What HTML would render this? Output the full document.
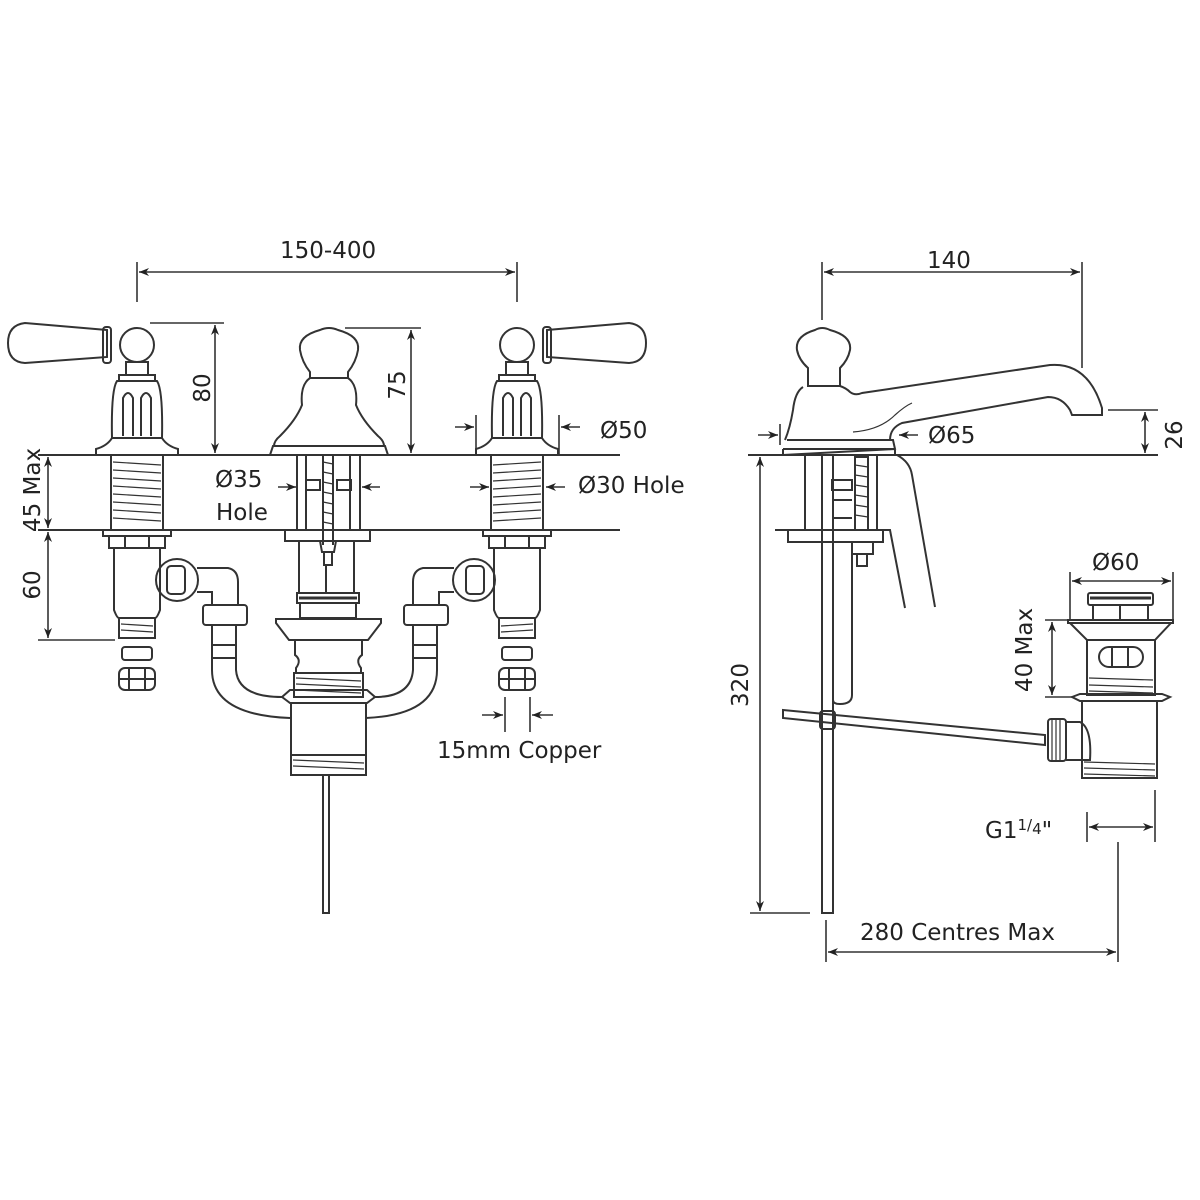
<!DOCTYPE html>
<html><head><meta charset="utf-8"><style>
html,body{margin:0;padding:0;background:#fff;}
svg{display:block;}
text{font-family:"DejaVu Sans","Liberation Sans",sans-serif;font-size:23px;fill:#222;}
</style></head><body>
<svg width="1200" height="1200" viewBox="0 0 1200 1200" xmlns="http://www.w3.org/2000/svg">
<defs>
<marker id="a" viewBox="0 0 10 10" refX="10" refY="5" markerWidth="10" markerHeight="10" orient="auto-start-reverse" markerUnits="userSpaceOnUse"><path d="M0,1 L10,5 L0,9 L3,5 Z" fill="#222"/></marker>
<g id="tap" fill="none" stroke="#333" stroke-width="2">
  <path d="M-30,330 L-112,323 Q-129,325 -129,343 Q-129,362 -112,363 L-30,357 Z"/>
  <rect x="-34" y="327" width="8" height="36" rx="3"/>
  <circle cx="0" cy="345" r="17"/>
  <rect x="-11" y="362" width="22" height="13"/>
  <rect x="-18" y="375" width="36" height="6"/>
  <path d="M-20,381 Q-26,390 -25,438 L25,438 Q26,390 20,381 Z"/>
  <path d="M-14,436 L-14,398 Q-9,388 -4,398 L-4,436 M4,436 L4,398 Q9,388 14,398 L14,436"/>
  <path d="M-25,438 Q-30,446 -41,449 L-41,455 L41,455 L41,449 Q30,446 25,438"/>
  <rect x="-26" y="455" width="52" height="75"/>
  <path d="M-24,462 L24,465 M-24,470 L24,473 M-24,478 L24,481 M-24,486 L24,489 M-24,494 L24,497 M-24,502 L24,505 M-24,510 L24,513 M-24,518 L24,521" stroke-width="1.2"/>
  <rect x="-34" y="530" width="68" height="6"/>
  <rect x="-28" y="536" width="56" height="12"/>
  <path d="M-12,536 L-12,548 M12,536 L12,548"/>
  <path d="M-23,548 L-23,610 Q-20,618 -18,618 L18,618 Q20,618 23,610 L23,548"/>
  <rect x="-18" y="618" width="36" height="20"/>
  <path d="M-16,624 L16,626 M-16,630 L16,632" stroke-width="1.2"/>
  <rect x="-15" y="647" width="30" height="13" rx="3"/>
  <rect x="-18" y="668" width="36" height="22" rx="6"/>
  <path d="M-8,668 L-8,690 M8,668 L8,690 M-18,679 L18,679"/>
</g>
</defs>

<g stroke="#333" stroke-width="2" fill="none">
<line x1="38" y1="455" x2="620" y2="455"/>
<line x1="38" y1="530" x2="620" y2="530"/>
<line x1="748" y1="455" x2="1158" y2="455"/>
</g>

<use href="#tap" transform="translate(137,0)"/>
<use href="#tap" transform="translate(517,0) scale(-1,1)"/>

<g fill="none" stroke="#333" stroke-width="2">
  <path d="M300,350 Q298,336 320,330 Q329,326 338,330 Q360,336 358,350 Q356,362 348,372 L348,378 L310,378 L310,372 Q302,362 300,350 Z"/>
  <path d="M310,378 Q300,385 302,405 Q296,420 280,436 Q274,441 274,446 L384,446 Q384,441 378,436 Q362,420 356,405 Q358,385 348,378"/>
  <path d="M273,446 L385,446 L388,455 L270,455 Z"/>
  <rect x="297" y="455" width="63" height="75"/>
  <path d="M306,455 L306,530 M350,455 L350,530 M323,455 L323,545 M333,455 L333,545"/>
  <path d="M323,462 L333,464 M323,472 L333,474 M323,482 L333,484 M323,492 L333,494 M323,502 L333,504 M323,512 L333,514 M323,522 L333,524" stroke-width="1.2"/>
  <rect x="306" y="480" width="14" height="10"/><rect x="337" y="480" width="14" height="10"/>
  <rect x="285" y="530" width="85" height="11"/>
  <path d="M320,541 L322,552 L334,552 L336,541 M324,552 L324,565 L332,565 L332,552"/>
  <path d="M299,541 L299,593 M354,541 L354,593 M326,565 L326,593"/>
  <rect x="297" y="593" width="62" height="10"/>
  <line x1="299" y1="598" x2="357" y2="598" stroke-width="3"/>
  <rect x="300" y="603" width="56" height="15"/>
  <path d="M276,619 L381,619 L381,623 L368,640 L289,640 L276,623 Z"/>
  <path d="M295,640 L295,655 Q302,660 296,668 L296,673 M362,640 L362,655 Q355,660 361,668 L361,673"/>
  <rect x="294" y="673" width="69" height="24"/>
  <path d="M296,678 L361,681 M296,684 L361,687 M296,690 L361,693" stroke-width="1.2"/>
  <path d="M282,697 L290,690 L367,690 L375,697 L367,703 L290,703 Z"/>
  <rect x="291" y="703" width="75" height="72"/>
  <path d="M291,755 L366,755" />
  <path d="M293,760 L364,763 M293,766 L364,769" stroke-width="1.2"/>
  <path d="M323,775 L323,913 L329,913 L329,775"/>
  <circle cx="177" cy="580" r="21"/>
  <rect x="167" y="566" width="18" height="28" rx="4"/>
  <path d="M197,568 L228,568 Q238,570 238,582 L238,605 M197,592 L212,592 L212,605"/>
  <rect x="203" y="605" width="44" height="20" rx="3"/>
  <path d="M212,625 L212,658 L236,658 L236,625 M212,645 L236,645"/>
  <path d="M212,658 L212,670 Q212,715 290,718 M236,658 L236,670 Q238,697 282,697"/>
  <circle cx="474" cy="580" r="21"/>
  <rect x="466" y="566" width="18" height="28" rx="4"/>
  <path d="M454,568 L423,568 Q413,570 413,582 L413,605 M454,592 L439,592 L439,605"/>
  <rect x="404" y="605" width="44" height="20" rx="3"/>
  <path d="M413,625 L413,658 L437,658 L437,625 M413,645 L437,645"/>
  <path d="M437,658 L437,670 Q437,715 366,718 M413,658 L413,670 Q411,697 375,697"/>
</g>

<g stroke="#333" stroke-width="1.6" fill="none">
  <line x1="137" y1="262" x2="137" y2="302"/>
  <line x1="517" y1="262" x2="517" y2="302"/>
  <line x1="139" y1="272" x2="515" y2="272" marker-start="url(#a)" marker-end="url(#a)"/>
  <line x1="150" y1="323" x2="224" y2="323"/>
  <line x1="215" y1="325" x2="215" y2="453" marker-start="url(#a)" marker-end="url(#a)"/>
  <line x1="345" y1="328" x2="421" y2="328"/>
  <line x1="411" y1="330" x2="411" y2="453" marker-start="url(#a)" marker-end="url(#a)"/>
  <line x1="476" y1="415" x2="476" y2="455"/>
  <line x1="559" y1="415" x2="559" y2="455"/>
  <line x1="455" y1="427" x2="474" y2="427" marker-end="url(#a)"/>
  <line x1="580" y1="427" x2="561" y2="427" marker-end="url(#a)"/>
  <line x1="278" y1="487" x2="296" y2="487" marker-end="url(#a)"/>
  <line x1="380" y1="487" x2="362" y2="487" marker-end="url(#a)"/>
  <line x1="470" y1="487" x2="489" y2="487" marker-end="url(#a)"/>
  <line x1="565" y1="487" x2="546" y2="487" marker-end="url(#a)"/>
  <line x1="48" y1="457" x2="48" y2="528" marker-start="url(#a)" marker-end="url(#a)"/>
  <line x1="48" y1="532" x2="48" y2="638" marker-start="url(#a)" marker-end="url(#a)"/>
  <line x1="38" y1="640" x2="115" y2="640"/>
  <line x1="505" y1="697" x2="505" y2="732"/>
  <line x1="530" y1="697" x2="530" y2="732"/>
  <line x1="482" y1="715" x2="503" y2="715" marker-end="url(#a)"/>
  <line x1="553" y1="715" x2="532" y2="715" marker-end="url(#a)"/>
</g>
<text x="280" y="258">150-400</text>
<text transform="translate(210,388) rotate(-90)" text-anchor="middle">80</text>
<text transform="translate(405,385) rotate(-90)" text-anchor="middle">75</text>
<text x="600" y="438">Ø50</text>
<text x="215" y="487">Ø35</text>
<text x="216" y="520">Hole</text>
<text x="578" y="493">Ø30 Hole</text>
<text transform="translate(40,490) rotate(-90)" text-anchor="middle">45 Max</text>
<text transform="translate(40,585) rotate(-90)" text-anchor="middle">60</text>
<text x="437" y="758">15mm Copper</text>

<g fill="none" stroke="#333" stroke-width="2">
  <path d="M797,350 Q795,336 815,330 Q822,326 830,330 Q852,336 850,350 Q848,360 840,368 L840,386 L808,386 L808,368 Q799,360 797,350 Z"/>
  <path d="M803,387 Q795,392 793,410 Q790,428 785,440 M840,386 Q846,388 850,392 Q855,396 862,393 L1050,365 Q1088,362 1102,408 L1102,415 L1072,415 L1070,410 Q1062,397 1048,397 L902,423 Q890,428 890,440"/>
  <path d="M853,432 Q880,430 895,415 Q905,406 912,403" stroke-width="1.2"/>
  <path d="M787,440 L893,440 L895,449 L783,455 L895,455 L895,449 M783,449 L783,455"/>
  <path d="M783,449 L895,449"/>
  <rect x="805" y="455" width="72" height="75"/>
  <rect x="855" y="457" width="13" height="73"/>
  <path d="M855,465 L868,467 M855,475 L868,477 M855,485 L868,487 M855,495 L868,497 M855,505 L868,507 M855,515 L868,517" stroke-width="1.2"/>
  <rect x="832" y="480" width="20" height="10"/>
  <path d="M832,500 L852,500 M832,518 L852,518"/>
  <line x1="775" y1="530" x2="790" y2="530"/>
  <rect x="788" y="530" width="95" height="12"/>
  <path d="M883,530 L890,530 L905,608 M897,455 Q910,462 912,475 L935,607"/>
  <rect x="852" y="542" width="21" height="12"/>
  <rect x="857" y="554" width="10" height="12"/>
  <path d="M822,455 L822,913 L833,913 L833,455"/>
  <path d="M833,542 L833,700 Q833,704 840,704 Q852,704 852,695 L852,555"/>
  <path d="M783,710 L1045,735 L1045,745 L783,718 Z"/>
  <rect x="820" y="711" width="15" height="18" rx="3"/>
  <rect x="1048" y="719" width="18" height="42" rx="3"/>
  <path d="M1052,720 L1052,760 M1056,720 L1056,760 M1060,720 L1060,760" stroke-width="1.2"/>
  <path d="M1066,722 L1080,722 Q1092,728 1090,760 L1066,760"/>
  <rect x="1088" y="593" width="65" height="12" rx="2"/>
  <line x1="1090" y1="598" x2="1151" y2="598" stroke-width="3"/>
  <rect x="1093" y="605" width="55" height="15"/>
  <line x1="1120" y1="605" x2="1120" y2="620"/>
  <rect x="1068" y="620" width="105" height="3"/>
  <path d="M1070,623 L1087,640 L1155,640 L1171,623"/>
  <rect x="1087" y="640" width="68" height="55"/>
  <rect x="1099" y="647" width="44" height="20" rx="10"/>
  <path d="M1112,647 L1112,667 M1128,647 L1128,667"/>
  <path d="M1089,678 L1153,680 M1089,685 L1153,687 M1089,691 L1153,693" stroke-width="1.2"/>
  <path d="M1072,697 L1080,694 L1162,694 L1170,697 L1162,701 L1080,701 Z"/>
  <rect x="1082" y="701" width="75" height="77"/>
  <path d="M1084,762 L1155,764 M1084,768 L1155,770 M1084,774 L1155,776" stroke-width="1.2"/>
</g>

<g stroke="#333" stroke-width="1.6" fill="none">
  <line x1="822" y1="262" x2="822" y2="320"/>
  <line x1="1082" y1="262" x2="1082" y2="368"/>
  <line x1="824" y1="272" x2="1080" y2="272" marker-start="url(#a)" marker-end="url(#a)"/>
  <line x1="1108" y1="410" x2="1158" y2="410"/>
  <line x1="1145" y1="412" x2="1145" y2="453" marker-start="url(#a)" marker-end="url(#a)"/>
  <line x1="780" y1="424" x2="780" y2="445"/>
  <line x1="758" y1="435" x2="778" y2="435" marker-end="url(#a)"/>
  <line x1="918" y1="435" x2="899" y2="435" marker-end="url(#a)"/>
  <line x1="760" y1="457" x2="760" y2="911" marker-start="url(#a)" marker-end="url(#a)"/>
  <line x1="750" y1="913" x2="810" y2="913"/>
  <line x1="1070" y1="572" x2="1070" y2="620"/>
  <line x1="1173" y1="572" x2="1173" y2="620"/>
  <line x1="1072" y1="581" x2="1171" y2="581" marker-start="url(#a)" marker-end="url(#a)"/>
  <line x1="1045" y1="620" x2="1070" y2="620"/>
  <line x1="1045" y1="697" x2="1072" y2="697"/>
  <line x1="1052" y1="622" x2="1052" y2="695" marker-start="url(#a)" marker-end="url(#a)"/>
  <line x1="1087" y1="812" x2="1087" y2="842"/>
  <line x1="1155" y1="790" x2="1155" y2="842"/>
  <line x1="1089" y1="827" x2="1153" y2="827" marker-start="url(#a)" marker-end="url(#a)"/>
  <line x1="826" y1="920" x2="826" y2="962"/>
  <line x1="1118" y1="842" x2="1118" y2="962"/>
  <line x1="828" y1="952" x2="1116" y2="952" marker-start="url(#a)" marker-end="url(#a)"/>
</g>
<text x="927" y="268">140</text>
<text transform="translate(1182,435) rotate(-90)" text-anchor="middle">26</text>
<text x="928" y="443">Ø65</text>
<text transform="translate(748,685) rotate(-90)" text-anchor="middle">320</text>
<text x="1092" y="570">Ø60</text>
<text transform="translate(1032,650) rotate(-90)" text-anchor="middle">40 Max</text>
<text x="985" y="838">G1<tspan font-size="15" dy="-8">1</tspan><tspan font-size="15" dy="0">/</tspan><tspan font-size="15" dy="4">4</tspan><tspan dy="4">"</tspan></text>
<text x="860" y="940">280 Centres Max</text>
</svg>
</body></html>
